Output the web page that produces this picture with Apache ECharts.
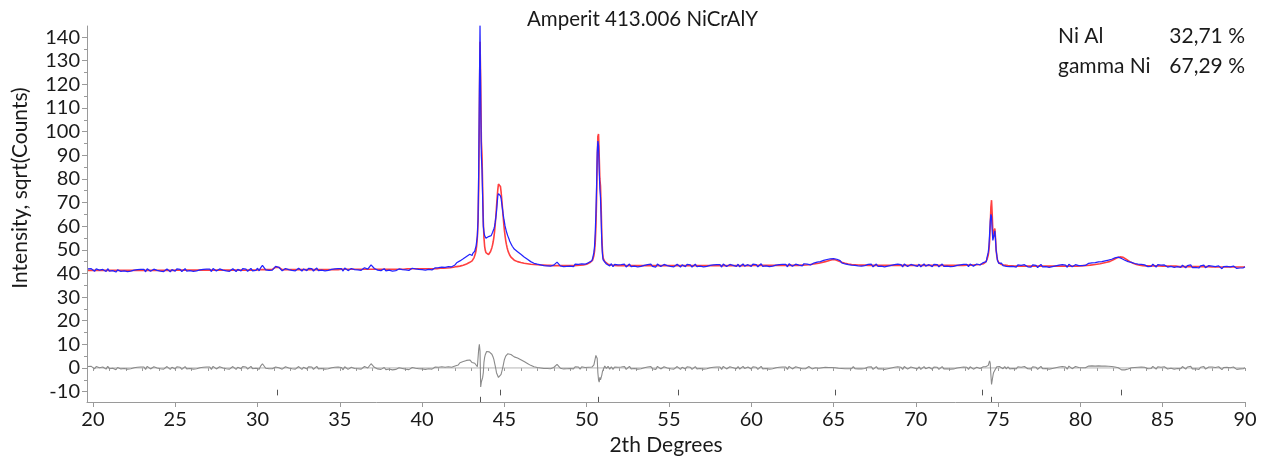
<!DOCTYPE html>
<html>
<head>
<meta charset="utf-8">
<script src="https://cdn.jsdelivr.net/npm/echarts@6/dist/echarts.min.js"></script>
<style>
html,body{margin:0;padding:0;background:#fff;}
#chart{width:1270px;height:461px;}
</style>
</head>
<body>
<div id="chart"></div>
<script>
// ---- tick labels ----
const xTicks = [20, 25, 30, 35, 40, 45, 50, 55, 60, 65, 70, 75, 80, 85, 90];
const xMinorTicks = [20,21,22,23,24,25,26,27,28,29,30,31,32,33,34,35,36,37,38,39,40,41,42,43,44,45,46,47,48,49,50,51,52,53,54,55,56,57,58,59,60,61,62,63,64,65,66,67,68,69,70,71,72,73,74,75,76,77,78,79,80,81,82,83,84,85,86,87,88,89,90];
const yTicks = [-10, 0, 10, 20, 30, 40, 50, 60, 70, 80, 90, 100, 110, 120, 130, 140];
const yMinorTicks = [-10,-5,0,5,10,15,20,25,30,35,40,45,50,55,60,65,70,75,80,85,90,95,100,105,110,115,120,125,130,135,140];

// ---- phase fractions ----
const phaseNames = ['Ni Al', 'gamma Ni'];
const phaseFractions = ['32,71 %', '67,29 %'];

// ---- reflection positions (2theta) ----
const reflNiAl = [31.2, 44.72, 55.55, 65.08, 74.03, 82.5];
const reflGammaNi = [43.53, 50.72, 74.61];

// ---- scan segments: start 2theta and step ----
const segStart = [19.7, 43.0, 45.5, 50.32, 51.1, 74.24, 75.2];
const segStep  = [0.1, 0.04, 0.1, 0.04, 0.1, 0.04, 0.1];

// observed intensity, sqrt(counts)
const obsA = [41.9,41.5,42.0,
41.6,40.9,41.9,41.1,41.4,40.8,41.7,41.3,40.8,42.0,
41.0,41.8,41.2,41.7,40.6,41.5,41.9,40.9,41.4,41.1,
41.9,40.8,41.5,41.0,41.8,41.4,40.7,41.6,41.2,41.7,
41.1,41.7,40.7,42.0,41.2,40.9,41.5,41.8,41.0,41.3,
41.7,41.0,41.8,40.8,41.4,41.9,41.1,40.7,41.6,41.2,
41.0,41.9,41.3,41.7,40.8,41.6,42.0,41.0,41.5,41.2,
42.0,40.9,41.6,41.1,41.9,41.5,40.8,41.7,41.3,41.8,
41.2,41.8,40.8,42.1,41.3,41.0,41.6,41.9,41.1,41.4,
41.8,41.1,41.9,40.9,41.5,42.0,41.2,40.8,41.7,41.3,
41.1,42.0,41.4,41.8,40.9,41.7,42.1,41.1,41.6,41.3,
42.2,41.1,42.5,43.4,42.6,41.5,42.0,41.3,41.9,41.4,
42.2,43.0,43.5,42.6,42.0,41.1,41.8,42.1,41.3,41.6,
42.0,41.3,42.1,41.1,41.7,42.2,41.4,41.0,41.9,41.5,
41.2,42.1,41.6,42.0,41.0,41.8,42.3,41.2,41.7,41.4,
42.2,41.1,41.8,41.3,42.1,41.7,41.0,41.9,41.5,42.0,
41.4,42.0,41.0,42.3,41.5,41.2,41.8,42.1,41.3,41.6,
42.2,41.5,42.3,41.3,41.9,42.4,41.6,41.8,42.6,43.6,
43.0,42.1,41.6,41.4,41.9,41.2,41.7,42.0,41.1,41.5,
41.4,41.9,41.0,41.7,41.2,41.5,41.9,41.1,41.6,41.3,
41.5,42.1,41.3,41.8,42.2,41.4,41.9,41.2,41.7,42.0,
41.6,42.2,41.4,42.0,41.7,42.3,41.5,41.9,42.4,41.8,
42.5,41.9,42.7,42.1,42.6,42.3,42.9,42.4,42.8,43.3,
43.6,44.5,44.3,45.3,45.0,46.2,46.0,47.2,47.1,48.1];
const obsB = [48.2,47.6,48.5,48.0,48.9,49.4,50.6,51.5,53.8,56.0,
63,84,118,145,114,90,84,72,60,57.5,
56.0,55.4,54.9,55.3,54.6,55.0,55.6,55.1,55.8,56.2,
56.0,56.7,57.3,57.9,58.8,59.8,61.5,63.6,66.0,69.5,
72.8,73.8,74.6,74.3,72.8,71.8,69.6,67.5,65.3,63.4,
61.8,60.1,59.0,57.8,56.9,56.0,55.3,54.6,53.7,53.2,
52.6,52.0,51.5];
const obsC = [51.2,50.3,50.0,49.2,49.0,48.1,47.8,47.0,46.9,46.0,
45.9,45.0,45.1,44.3,44.6,43.9,44.3,43.6,44.1,43.3,
43.9,43.2,43.8,43.1,43.7,43.5,44.3,44.8,44.0,43.2,
43.8,42.9,43.6,43.0,43.7,43.1,43.8,42.9,43.9,43.2,
43.8,43.0,44.0,43.4,43.9,43.6,44.5,45.3];
const obsD = [45.4,46.3,47.0,48.9,51.6,57.0,64.8,76,91,96,94,84,76,72,63,53,48.0,45.7];
const obsE = [45.8,44.0,44.6,43.2,44.1,42.9,43.8,43.0,43.6,
42.8,43.7,43.1,43.9,42.7,43.5,44.0,42.9,43.4,43.1,
43.9,42.8,43.5,43.0,43.8,43.4,42.6,43.7,43.2,43.9,
43.0,43.6,42.7,44.0,43.2,42.9,43.5,43.8,43.0,43.3,
43.7,43.0,43.8,42.8,43.4,43.9,43.1,42.7,43.6,43.2,
42.9,43.8,43.2,43.6,42.7,43.5,43.9,42.9,43.4,43.1,
43.9,42.8,43.5,43.0,43.8,43.4,42.7,43.6,43.2,43.7,
43.1,43.7,42.7,44.0,43.3,42.9,43.5,43.8,43.0,43.4,
43.8,43.0,43.9,42.8,43.4,44.0,43.1,42.8,43.7,43.2,
43.0,43.9,43.3,43.7,42.8,43.6,44.1,43.0,43.5,43.2,
44.0,42.9,43.6,43.1,43.9,43.5,42.8,43.7,43.3,43.8,
43.2,43.8,42.8,44.1,43.4,43.0,43.6,43.9,43.1,43.5,
43.9,43.2,44.1,43.3,43.9,44.3,43.6,43.5,44.4,44.2,
44.8,44.2,45.0,44.7,45.5,45.3,45.9,45.6,46.2,46.0,
46.3,45.9,46.0,45.2,45.4,44.5,44.9,44.0,44.6,43.7,
44.2,43.5,44.3,43.4,44.1,43.2,43.9,43.1,43.8,43.3,
43.0,43.8,43.2,43.9,42.8,43.6,44.0,43.0,43.5,43.1,
43.9,42.8,43.5,43.1,43.8,43.4,42.7,43.7,43.3,43.9,
43.1,43.7,42.8,44.0,43.3,42.9,43.6,43.8,43.0,43.4,
43.8,43.0,43.9,42.8,43.5,44.0,43.1,42.8,43.7,43.2,
42.9,43.8,43.3,43.7,42.8,43.6,44.0,43.0,43.4,43.1,
43.9,42.9,43.5,43.0,43.8,43.4,42.7,43.6,43.2,43.8,
43.2,43.8,42.9,44.0,43.4,43.1,43.7,44.0,43.2,43.6,
44.2,44.6,45.4];
const obsF = [45.3,45.0,46.6,47.0,48.9,51.5,56.5,62,65,64,58,54.0,53.5,56.5,58,54.5,49.6,47.8,45.5,45.6,44.3,44.8,43.9];
const obsG = [44.4,43.3,44.1,43.0,43.8,42.9,43.6,43.0,
43.5,42.7,43.6,42.9,43.4,42.6,43.7,43.0,42.8,43.5,
42.7,43.6,43.0,43.4,42.5,43.3,43.8,42.8,43.2,42.9,
43.7,42.6,43.3,42.9,43.6,43.2,42.5,43.5,43.1,43.7,
42.9,43.5,42.6,43.9,43.1,42.8,43.4,43.7,42.9,43.3,
43.9,43.3,44.1,43.4,44.0,44.3,43.7,44.5,44.1,44.6,
44.4,44.9,44.5,45.0,44.8,45.3,45.1,45.6,45.5,46.0,
46.4,46.6,46.9,46.9,46.6,46.3,46.0,45.6,45.4,45.0,
44.9,44.7,44.1,44.2,43.6,43.9,43.3,43.8,43.1,43.6,
43.8,42.9,43.6,43.0,43.9,43.3,42.7,43.7,43.1,43.5,
42.8,43.6,43.2,42.7,43.5,43.0,43.7,42.6,43.3,42.9,
43.4,42.6,43.5,42.8,42.4,43.3,42.7,43.6,42.5,43.1,
42.6,43.4,42.3,43.2,42.8,43.5,42.4,42.9,43.3,42.5,
43.1,42.3,42.9,42.2,43.2,42.6,42.0,42.9,42.4,43.0,
42.2,42.8,42.0,43.1,42.5,42.1,42.9,42.3,42.7,42.4,
42.8];

// calculated intensity, sqrt(counts)
const calcA = [41.3,41.3,41.3,
41.3,41.3,41.3,41.3,41.3,41.3,41.3,41.3,41.3,41.3,
41.3,41.3,41.3,41.3,41.3,41.3,41.3,41.3,41.3,41.3,
41.3,41.3,41.3,41.3,41.3,41.3,41.3,41.3,41.3,41.3,
41.3,41.3,41.3,41.3,41.3,41.3,41.3,41.3,41.3,41.3,
41.3,41.3,41.3,41.3,41.3,41.3,41.3,41.3,41.3,41.3,
41.4,41.4,41.4,41.4,41.4,41.4,41.4,41.4,41.4,41.4,
41.4,41.4,41.4,41.4,41.4,41.4,41.4,41.4,41.4,41.4,
41.4,41.4,41.4,41.4,41.4,41.4,41.4,41.4,41.4,41.4,
41.4,41.4,41.4,41.4,41.4,41.4,41.4,41.4,41.4,41.4,
41.4,41.4,41.4,41.4,41.4,41.4,41.4,41.4,41.4,41.4,
41.6,41.6,41.6,41.6,41.6,41.6,41.6,41.6,41.6,41.7,
41.9,42.6,43.0,42.5,41.9,41.6,41.6,41.6,41.6,41.6,
41.6,41.6,41.6,41.6,41.6,41.6,41.6,41.6,41.6,41.6,
41.6,41.6,41.6,41.6,41.6,41.6,41.6,41.6,41.6,41.6,
41.6,41.6,41.6,41.6,41.6,41.6,41.6,41.6,41.6,41.6,
41.8,41.8,41.8,41.8,41.8,41.8,41.8,41.8,41.8,41.8,
41.8,41.8,41.8,41.8,41.8,41.8,41.8,41.8,41.8,41.8,
41.8,41.8,41.8,41.8,41.8,41.8,41.8,41.8,41.8,41.8,
41.8,41.8,41.8,41.8,41.8,41.8,41.8,41.8,41.8,41.8,
42.0,42.0,42.0,42.0,42.0,42.0,42.0,42.0,42.0,42.0,
42.0,42.0,42.0,42.0,42.0,42.0,42.0,42.0,42.0,42.0,
42.2,42.2,42.2,42.2,42.3,42.3,42.4,42.4,42.5,42.6,
42.8,42.9,43.0,43.1,43.3,43.5,43.7,44.0,44.3,44.7];
const calcB = [45.0,45.3,45.7,46.1,46.7,47.4,48.4,49.8,52.0,55.5,
62,76,108,138,122,96,90,76,62,55,
51.5,49.8,48.8,48.3,48.0,47.9,48.0,48.3,48.7,49.3,
50.0,50.9,52.0,53.4,55.2,57.5,60.5,64.0,68.0,72.0,
75.5,77.8,78.6,78.3,76.8,74.5,71.5,68.0,64.5,61.2,
58.3,56.0,54.0,52.4,51.1,50.0,49.1,48.4,47.8,47.3,
46.9,46.5,46.2];
const calcC = [46.0,45.6,45.3,45.0,44.8,44.6,44.4,44.3,44.2,44.1,
44.0,43.9,43.8,43.8,43.7,43.7,43.6,43.6,43.5,43.5,
43.5,43.4,43.4,43.4,43.4,43.3,43.3,43.3,43.3,43.3,
43.3,43.3,43.3,43.3,43.3,43.3,43.3,43.3,43.4,43.4,
43.4,43.5,43.5,43.6,43.7,43.9,44.2,44.6];
const calcD = [45.0,45.6,46.4,47.6,49.5,53.0,59.5,71,87,98,99,90,80,77,68,56,49.5,46.5];
const calcE = [45.0,44.2,43.9,43.7,43.6,43.5,43.4,43.4,43.3,
43.3,43.3,43.3,43.3,43.3,43.3,43.3,43.3,43.3,43.3,
43.3,43.3,43.3,43.3,43.3,43.3,43.3,43.3,43.3,43.3,
43.3,43.3,43.3,43.3,43.3,43.3,43.3,43.3,43.3,43.3,
43.3,43.3,43.3,43.3,43.3,43.3,43.3,43.3,43.3,43.3,
43.3,43.3,43.3,43.3,43.3,43.3,43.3,43.3,43.3,43.3,
43.3,43.3,43.3,43.3,43.3,43.3,43.3,43.3,43.3,43.3,
43.3,43.3,43.3,43.3,43.3,43.3,43.3,43.3,43.3,43.3,
43.3,43.3,43.3,43.3,43.3,43.3,43.3,43.3,43.3,43.3,
43.4,43.4,43.4,43.4,43.4,43.4,43.4,43.4,43.4,43.4,
43.4,43.4,43.4,43.4,43.4,43.4,43.4,43.4,43.4,43.4,
43.4,43.4,43.4,43.4,43.4,43.4,43.4,43.4,43.4,43.4,
43.5,43.5,43.6,43.6,43.7,43.7,43.8,43.9,44.0,44.1,
44.2,44.3,44.5,44.6,44.8,45.0,45.2,45.4,45.6,45.8,
45.9,45.8,45.6,45.3,45.0,44.7,44.5,44.3,44.1,44.0,
43.9,43.8,43.7,43.7,43.6,43.6,43.5,43.5,43.5,43.5,
43.4,43.4,43.4,43.4,43.4,43.4,43.4,43.4,43.4,43.4,
43.4,43.4,43.4,43.4,43.4,43.4,43.4,43.4,43.4,43.4,
43.4,43.4,43.4,43.4,43.4,43.4,43.4,43.4,43.4,43.4,
43.4,43.4,43.4,43.4,43.4,43.4,43.4,43.4,43.4,43.4,
43.4,43.4,43.4,43.4,43.4,43.4,43.4,43.4,43.4,43.4,
43.4,43.4,43.4,43.4,43.4,43.4,43.4,43.4,43.4,43.4,
43.5,43.5,43.5,43.5,43.6,43.6,43.6,43.7,43.7,43.8,
43.9,44.1,44.5];
const calcF = [44.8,45.2,45.8,46.6,47.8,49.8,53.5,60,68,71,65,57.5,55.5,58,59,55,50,47.3,45.8,45.0,44.5,44.2,44.0];
const calcG = [43.8,43.6,43.5,43.4,43.3,43.3,43.2,43.2,
43.1,43.1,43.1,43.1,43.1,43.1,43.1,43.1,43.1,43.1,
43.1,43.1,43.1,43.1,43.1,43.1,43.1,43.1,43.1,43.1,
43.1,43.1,43.1,43.1,43.1,43.1,43.1,43.1,43.1,43.1,
43.1,43.1,43.1,43.1,43.1,43.1,43.1,43.1,43.1,43.1,
43.2,43.2,43.3,43.3,43.4,43.5,43.5,43.6,43.7,43.8,
43.9,44.0,44.1,44.2,44.4,44.5,44.7,44.9,45.1,45.4,
45.8,46.2,46.5,46.8,47.0,47.1,46.8,46.4,45.9,45.4,
45.0,44.6,44.3,44.0,43.8,43.6,43.5,43.4,43.3,43.3,
43.2,43.2,43.2,43.2,43.2,43.2,43.2,43.2,43.2,43.2,
43.1,43.1,43.1,43.1,43.1,43.1,43.1,43.1,43.1,43.1,
42.9,42.9,42.9,42.9,42.9,42.9,42.9,42.9,42.9,42.9,
42.9,42.9,42.9,42.9,42.9,42.9,42.9,42.9,42.9,42.9,
42.7,42.7,42.7,42.7,42.7,42.7,42.7,42.7,42.7,42.7,
42.7,42.7,42.7,42.7,42.7,42.7,42.7,42.7,42.7,42.7,
42.7];

// ---- assemble ----
const obsSegs = [obsA, obsB, obsC, obsD, obsE, obsF, obsG];
const calcSegs = [calcA, calcB, calcC, calcD, calcE, calcF, calcG];
const observed = [], calculated = [], difference = [];
obsSegs.forEach(function (seg, s) {
  if (seg.length !== calcSegs[s].length) console.error('segment length mismatch', s, seg.length, calcSegs[s].length);
  const n = Math.min(seg.length, calcSegs[s].length);
  for (let i = 0; i < n; i++) {
    const x = +(segStart[s] + i * segStep[s]).toFixed(2);
    observed.push([x, seg[i]]);
    calculated.push([x, calcSegs[s][i]]);
    difference.push([x, +(seg[i] - calcSegs[s][i]).toFixed(2)]);
  }
});

const X_MIN = 19.64, X_MAX = 90, Y_MIN = -14.4, Y_MAX = 144.7;
const FONT = 'Lato';
const AXIS_COLOR = '#9a9a9a';
const TEXT_COLOR = '#1a1a1a';

function reflLines(list, y1, y2) {
  return list.map(function (x) { return [{ coord: [x, y1] }, { coord: [x, y2] }]; });
}

const chart = echarts.init(document.getElementById('chart'), null, { renderer: 'canvas' });
chart.setOption({
  animation: false,
  backgroundColor: '#fff',
  title: {
    text: 'Amperit 413.006 NiCrAlY',
    left: 527, top: 9, padding: 0,
    textStyle: { fontFamily: FONT, fontSize: 20.5, fontWeight: 'normal', color: TEXT_COLOR }
  },
  grid: { left: 87, right: 25, top: 26, bottom: 59, containLabel: false, outerBoundsMode: 'none' },
  xAxis: [{
    type: 'value', min: X_MIN, max: X_MAX,
    name: '2th Degrees', nameLocation: 'middle', nameGap: 32,
    nameTextStyle: { fontFamily: FONT, fontSize: 21, color: TEXT_COLOR },
    axisLine: { show: true, onZero: false, lineStyle: { color: AXIS_COLOR, width: 1 } },
    axisTick: { show: true, length: 5, customValues: xTicks, lineStyle: { color: AXIS_COLOR } },
    axisLabel: { customValues: xTicks, fontFamily: FONT, fontSize: 20, color: TEXT_COLOR, margin: 8 },
    splitLine: { show: false }
  }, {
    type: 'value', min: X_MIN, max: X_MAX, position: 'bottom',
    axisLine: { show: false },
    axisTick: { show: true, length: 3, customValues: xMinorTicks, lineStyle: { color: AXIS_COLOR } },
    axisLabel: { show: false },
    splitLine: { show: false }
  }],
  yAxis: [{
    type: 'value', min: Y_MIN, max: Y_MAX,
    axisLine: { show: true, onZero: false, lineStyle: { color: AXIS_COLOR, width: 1 } },
    axisTick: { show: true, length: 5, customValues: yTicks, lineStyle: { color: AXIS_COLOR } },
    axisLabel: { customValues: yTicks, fontFamily: FONT, fontSize: 20, color: TEXT_COLOR, margin: 7 },
    splitLine: { show: false }
  }, {
    type: 'value', min: Y_MIN, max: Y_MAX, position: 'left',
    axisLine: { show: false },
    axisTick: { show: true, length: 3, customValues: yMinorTicks, lineStyle: { color: AXIS_COLOR } },
    axisLabel: { show: false },
    splitLine: { show: false }
  }],
  graphic: [
    { type: 'text', x: 20, y: 188, rotation: Math.PI / 2,
      style: { text: 'Intensity, sqrt(Counts)', fontFamily: FONT, fontSize: 21, fill: TEXT_COLOR, align: 'center', verticalAlign: 'middle' } },
    { type: 'text', x: 1058, y: 36,
      style: { text: phaseNames[0], fontFamily: FONT, fontSize: 21, fill: TEXT_COLOR, align: 'left', verticalAlign: 'middle' } },
    { type: 'text', x: 1245, y: 36,
      style: { text: phaseFractions[0], fontFamily: FONT, fontSize: 21, fill: TEXT_COLOR, align: 'right', verticalAlign: 'middle' } },
    { type: 'text', x: 1058, y: 66,
      style: { text: phaseNames[1], fontFamily: FONT, fontSize: 21, fill: TEXT_COLOR, align: 'left', verticalAlign: 'middle' } },
    { type: 'text', x: 1245, y: 66,
      style: { text: phaseFractions[1], fontFamily: FONT, fontSize: 21, fill: TEXT_COLOR, align: 'right', verticalAlign: 'middle' } }
  ],
  series: [
    { name: 'zero', type: 'line', data: [[20, 0], [X_MAX, 0]], symbol: 'none', silent: true,
      lineStyle: { color: '#b4b4b4', width: 1 }, z: 1 },
    { name: 'Difference', type: 'line', data: difference, symbol: 'none', silent: true,
      lineStyle: { color: '#8a8a8a', width: 1.1 }, z: 2 },
    { name: 'Calculated', type: 'line', data: calculated, symbol: 'none', silent: true,
      lineStyle: { color: '#ff4040', width: 1.6 }, z: 3 },
    { name: 'Observed', type: 'line', data: observed, symbol: 'none', silent: true,
      lineStyle: { color: '#2323ff', width: 1.25 }, z: 4 },
    { name: 'Reflections', type: 'line', data: [], symbol: 'none', silent: true,
      markLine: {
        silent: true, symbol: 'none', label: { show: false },
        lineStyle: { color: '#555', width: 1, type: 'solid' },
        data: reflLines(reflNiAl, -9.2, -11.6).concat(reflLines(reflGammaNi, -12.2, -14.4))
      } }
  ]
});
</script>
</body>
</html>
